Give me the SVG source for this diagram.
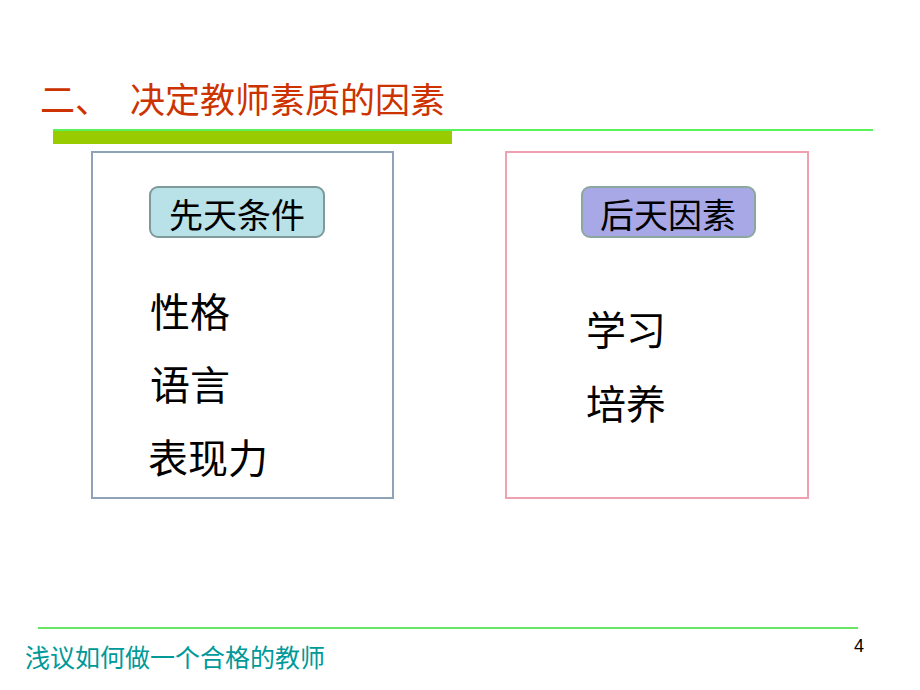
<svg xmlns="http://www.w3.org/2000/svg" width="920" height="690" viewBox="0 0 920 690">
<style>
.cjk{font-family:"Noto Sans CJK SC","Noto Sans CJK TC",sans-serif;}
.big{font-size:40px;fill:#000;}
.lbl{font-size:34px;fill:#000;text-anchor:middle;}
</style>
<rect width="920" height="690" fill="#fff"/>
<g id="title">
<text class="cjk" x="40" y="113" font-size="35" fill="#CC3300">二、</text>
<text class="cjk" x="130" y="113" font-size="35" fill="#CC3300">决定教师素质的因素</text>
<line x1="53" y1="130" x2="873" y2="130" stroke="#22EE22" stroke-width="1.5"/>
<rect x="53" y="131" width="399" height="13" fill="#99CC00"/>
</g>
<g id="left-box">
<rect x="92" y="152" width="301" height="346" fill="#fff" stroke="#8FA3B8" stroke-width="2"/>
<rect x="150" y="187" width="174" height="50" rx="8" fill="#B8E2E8" stroke="#7F9A9A" stroke-width="2"/>
<text class="cjk lbl" x="237" y="228">先天条件</text>
<text class="cjk big" x="150" y="327">性格</text>
<text class="cjk big" x="150" y="400">语言</text>
<text class="cjk big" x="148" y="473">表现力</text>
</g>
<g id="right-box">
<rect x="506" y="152" width="302" height="346" fill="#fff" stroke="#F0A0AE" stroke-width="2"/>
<rect x="582" y="187" width="173" height="50" rx="8" fill="#A9A8E6" stroke="#8AA8A0" stroke-width="2"/>
<text class="cjk lbl" x="668" y="228">后天因素</text>
<text class="cjk big" x="586" y="345">学习</text>
<text class="cjk big" x="586" y="419">培养</text>
</g>
<g id="footer">
<line x1="38" y1="628" x2="858" y2="628" stroke="#33DD33" stroke-width="1.5"/>
<text class="cjk" x="25" y="667" font-size="25" fill="#009999">浅议如何做一个合格的教师</text>
<text x="854" y="652" font-family="Liberation Sans, sans-serif" font-size="18" fill="#000">4</text>
</g>
</svg>
